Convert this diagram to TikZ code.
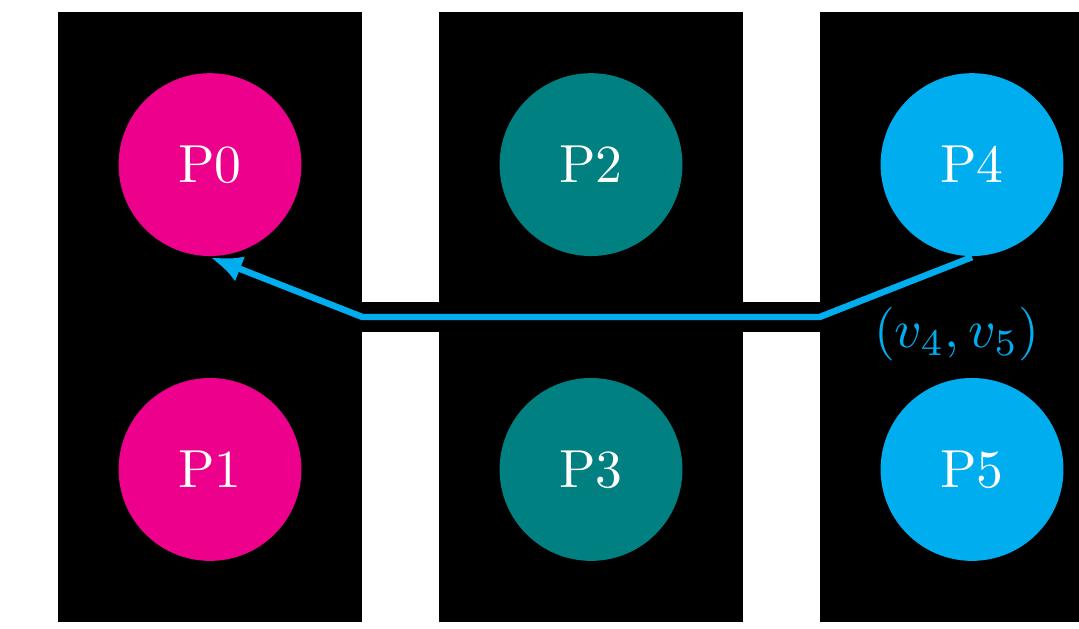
\documentclass[tikz,border=0pt]{standalone}
\usetikzlibrary{arrows.meta}

\definecolor{procpink}{RGB}{236,0,140}
\definecolor{procteal}{RGB}{0,128,128}
\definecolor{proccyan}{RGB}{0,174,239}

\begin{document}
\begin{tikzpicture}[
        proc/.style={circle, minimum size=1.2cm, inner sep=0pt, text=white},
        node/.style={fill=black},
        msg/.style={proccyan, very thick, line join=round, -{Latex[length=6pt, width=5pt]}}
    ]
    \useasboundingbox (-1.378, -2.047) rectangle (5.702, 2.080);

    % compute nodes and the link between them
    \fill[black] (-1, -2) rectangle (1, 2);
    \fill[black] (1.5, -2) rectangle (3.5, 2);
    \fill[black] (4, -2) rectangle (6, 2);
    \fill[black] (1, -0.1) rectangle (4, 0.1);

    \node[proc, fill=procpink] (P0) at (0, 1) {P0};
    \node[proc, fill=procpink] (P1) at (0, -1) {P1};
    \node[proc, fill=procteal] (P2) at (2.5, 1) {P2};
    \node[proc, fill=procteal] (P3) at (2.5, -1) {P3};
    \node[proc, fill=proccyan] (P4) at (5, 1) {P4};
    \node[proc, fill=proccyan] (P5) at (5, -1) {P5};

    \coordinate (out) at (4, 0);
    \coordinate (in) at (1, 0);

    \draw[msg] (P4.south) -- (out) -- (in) -- (P0.south);
    \node[text=proccyan] (edge) at (4.9, -0.11) {$(v_4, v_5)$};
\end{tikzpicture}
\end{document}
